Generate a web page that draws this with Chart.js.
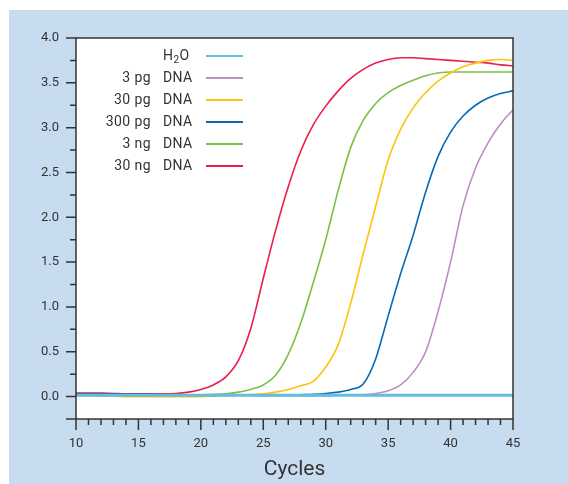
<!DOCTYPE html>
<html>
<head>
<meta charset="utf-8">
<title>qPCR amplification</title>
<script src="https://cdn.jsdelivr.net/npm/chart.js@4/dist/chart.umd.min.js"></script>
<style>
    html, body { margin: 0; padding: 0; background: #ffffff; }
    #chartBox { width: 568px; height: 484px; }
</style>
</head>
<body>
<div id="chartBox"><canvas id="myChart"></canvas></div>
<script>
// cycle numbers (x axis)
const cycles = [10, 11, 12, 13, 14, 15, 16, 17, 18, 19, 20, 21, 22, 23, 24, 25, 26, 27,
    28, 29, 30, 31, 32, 33, 34, 35, 36, 37, 38, 39, 40, 41, 42, 43, 44, 45];

// legend texts
const amountLabels = ["", "3 pg", "30 pg", "300 pg", "3 ng", "30 ng"];
const seriesNames = ["H2O", "DNA", "DNA", "DNA", "DNA", "DNA"];

// fluorescence values, one per cycle
const h2oValues = [0.015, 0.015, 0.015, 0.015, 0.015, 0.015, 0.015, 0.015, 0.015, 0.015, 0.015, 0.015,
    0.015, 0.015, 0.015, 0.015, 0.015, 0.015, 0.015, 0.015, 0.015, 0.015, 0.015, 0.015,
    0.015, 0.015, 0.015, 0.015, 0.015, 0.015, 0.015, 0.015, 0.015, 0.015, 0.015, 0.015];
const pg3Values = [0.02, 0.02, 0.02, 0.02, 0.015, 0.015, 0.015, 0.015, 0.015, 0.015, 0.015, 0.015,
    0.015, 0.015, 0.015, 0.01, 0.01, 0.01, 0.01, 0.01, 0.01, 0.015, 0.015, 0.02,
    0.035, 0.065, 0.13, 0.27, 0.50, 0.95, 1.50, 2.13, 2.55, 2.83, 3.04, 3.20];
const pg30Values = [0.01, 0.01, 0.005, 0.005, 0, 0, 0, 0, 0, 0, 0, 0.005,
    0.01, 0.015, 0.02, 0.03, 0.05, 0.08, 0.12, 0.17, 0.33, 0.58, 1.04, 1.59,
    2.12, 2.64, 2.98, 3.22, 3.39, 3.52, 3.61, 3.68, 3.72, 3.75, 3.76, 3.75];
const pg300Values = [0.03, 0.03, 0.03, 0.03, 0.025, 0.025, 0.025, 0.02, 0.02, 0.02, 0.02, 0.02,
    0.015, 0.015, 0.015, 0.015, 0.015, 0.015, 0.02, 0.025, 0.035, 0.05, 0.08, 0.14,
    0.42, 0.90, 1.37, 1.80, 2.28, 2.68, 2.95, 3.13, 3.25, 3.33, 3.38, 3.41];
const ng3Values = [0.02, 0.02, 0.02, 0.02, 0.02, 0.02, 0.02, 0.02, 0.02, 0.02, 0.02, 0.025,
    0.03, 0.05, 0.08, 0.13, 0.24, 0.47, 0.82, 1.27, 1.75, 2.30, 2.78, 3.08,
    3.27, 3.39, 3.47, 3.53, 3.58, 3.61, 3.62, 3.62, 3.62, 3.62, 3.62, 3.62];
const ng30Values = [0.04, 0.04, 0.04, 0.035, 0.03, 0.03, 0.03, 0.03, 0.035, 0.05, 0.08, 0.13,
    0.22, 0.40, 0.76, 1.32, 1.86, 2.34, 2.74, 3.03, 3.24, 3.41, 3.55, 3.65,
    3.72, 3.76, 3.78, 3.78, 3.77, 3.76, 3.75, 3.74, 3.73, 3.72, 3.70, 3.69];

const seriesColors = ['#63bde0', '#bd8cc4', '#fec20f', '#0a6ab4', '#7bc143', '#ec1c4b'];
const seriesWidths = [3, 1.6, 1.6, 1.6, 1.6, 1.6];
const allValues = [h2oValues, pg3Values, pg30Values, pg300Values, ng3Values, ng30Values];

const textColor = '#333333';
const fontName = 'Roboto, "Noto Sans", sans-serif';

// build xy points for every series
const makePoints = (values) => {
    let points = new Array();
    for (const index in cycles) {
        points.push({ x: cycles[index], y: values[index] });
    }
    return points;
}

let datasets = new Array();
for (const index in allValues) {
    datasets.push({
        label: amountLabels[index] + " " + seriesNames[index],
        data: makePoints(allValues[index]),
        borderColor: seriesColors[index],
        borderWidth: seriesWidths[index],
        pointRadius: 0,
        cubicInterpolationMode: 'monotone',
        fill: false
    });
}

// light blue panel behind, white plot area
const panelPlugin = {
    id: 'panelPlugin',
    beforeDraw: (chart) => {
        const ctx = chart.ctx;
        const area = chart.chartArea;
        ctx.save();
        ctx.fillStyle = '#ffffff';
        ctx.fillRect(0, 0, chart.width, chart.height);
        ctx.fillStyle = '#c7dcef';
        ctx.fillRect(9, 10, chart.width - 9, chart.height - 10);
        ctx.fillStyle = '#ffffff';
        ctx.fillRect(area.left, area.top, area.right - area.left, area.bottom - area.top);
        ctx.restore();
    }
};

// frame + outside ticks (long for labelled, short for minor)
const framePlugin = {
    id: 'framePlugin',
    afterDraw: (chart) => {
        const ctx = chart.ctx;
        const area = chart.chartArea;
        const xScale = chart.scales.x;
        const yScale = chart.scales.y;
        ctx.save();
        ctx.strokeStyle = '#333333';
        ctx.lineWidth = 1.5;
        ctx.strokeRect(area.left, area.top, area.right - area.left, area.bottom - area.top);

        ctx.beginPath();
        yScale.ticks.forEach((tick) => {
            const py = yScale.getPixelForValue(tick.value);
            const big = Math.abs(tick.value * 2 - Math.round(tick.value * 2)) < 0.001 || tick.value < 0;
            const len = big ? 10 : 6;
            ctx.moveTo(area.left - len, py);
            ctx.lineTo(area.left, py);
        });
        xScale.ticks.forEach((tick) => {
            const px = xScale.getPixelForValue(tick.value);
            const len = tick.value % 5 === 0 ? 11 : 6;
            ctx.moveTo(px, area.bottom);
            ctx.lineTo(px, area.bottom + len);
        });
        ctx.stroke();
        ctx.restore();
    }
};

// legend: amount right aligned, then name, then a short line
const legendPlugin = {
    id: 'legendPlugin',
    afterDraw: (chart) => {
        const ctx = chart.ctx;
        ctx.save();
        ctx.fillStyle = textColor;
        ctx.textBaseline = 'middle';
        ctx.letterSpacing = '0.4px';
        ctx.font = '14px ' + fontName;
        for (let i = 0; i < amountLabels.length; i++) {
            const rowY = 56 + i * 22;
            ctx.textAlign = 'right';
            ctx.fillText(amountLabels[i], 151, rowY);
            ctx.textAlign = 'left';
            if (seriesNames[i] === 'H2O') {
                ctx.fillText('H', 163, rowY);
                const hw = ctx.measureText('H').width;
                ctx.font = '10px ' + fontName;
                ctx.fillText('2', 163 + hw, rowY + 4);
                const tw = ctx.measureText('2').width;
                ctx.font = '14px ' + fontName;
                ctx.fillText('O', 163 + hw + tw, rowY);
            } else {
                ctx.fillText(seriesNames[i], 163, rowY);
            }
            ctx.strokeStyle = seriesColors[i];
            ctx.lineWidth = 2;
            ctx.beginPath();
            ctx.moveTo(206, rowY);
            ctx.lineTo(243, rowY);
            ctx.stroke();
        }
        ctx.restore();
    }
};

const ctx = document.getElementById('myChart');

new Chart(ctx, {
    type: 'line',
    data: { datasets: datasets },
    plugins: [panelPlugin, framePlugin, legendPlugin],
    options: {
        responsive: true,
        maintainAspectRatio: false,
        animation: false,
        layout: { padding: { left: 0, top: 38, right: 55, bottom: 0 } },
        plugins: {
            legend: { display: false },
            tooltip: { enabled: false }
        },
        scales: {
            x: {
                type: 'linear',
                min: 10,
                max: 45,
                afterFit: (scale) => { scale.height = 65; },
                grid: { display: false },
                border: { display: false },
                ticks: {
                    stepSize: 1,
                    autoSkip: false,
                    maxRotation: 0,
                    padding: 9,
                    color: textColor,
                    font: { family: fontName, size: 13 },
                    callback: (value) => value % 5 === 0 ? value : ''
                },
                title: {
                    display: true,
                    text: 'Cycles',
                    color: textColor,
                    padding: { top: 0, bottom: 2 },
                    font: { family: fontName, size: 21 }
                }
            },
            y: {
                min: -0.25,
                max: 4,
                afterFit: (scale) => { scale.width = 76; },
                grid: { display: false },
                border: { display: false },
                ticks: {
                    stepSize: 0.25,
                    autoSkip: false,
                    padding: 9,
                    color: textColor,
                    font: { family: fontName, size: 13 },
                    callback: (value) => {
                        if (value >= 0 && Math.abs(value * 2 - Math.round(value * 2)) < 0.001) {
                            return value.toFixed(1);
                        }
                        return '';
                    }
                }
            }
        }
    }
});
</script>
</body>
</html>
